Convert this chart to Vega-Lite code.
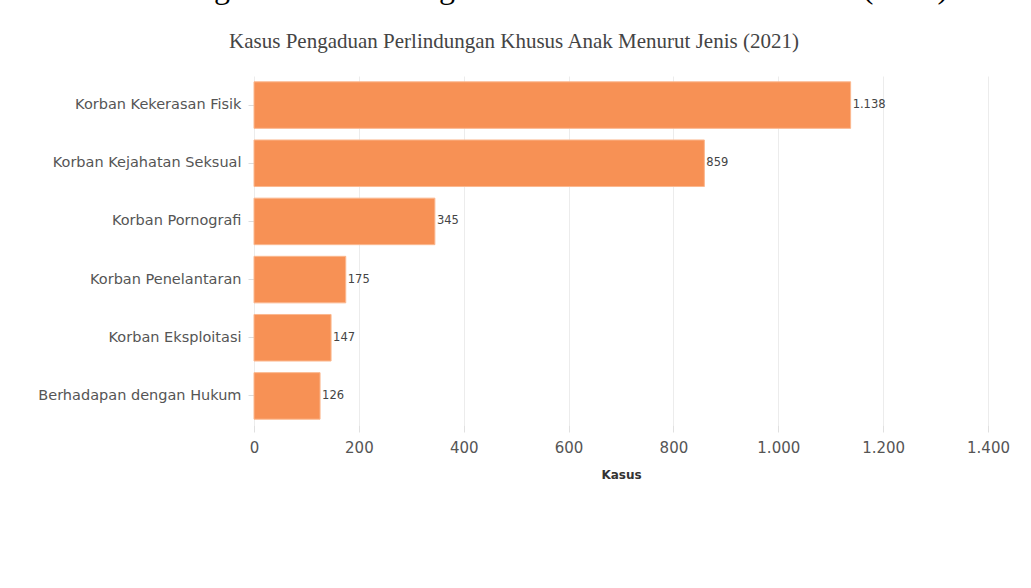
{
  "$schema": "https://vega.github.io/schema/vega-lite/v6.json",
  "width": 734,
  "height": 349,
  "autosize": "none",
  "padding": {"left": 254, "top": 76, "right": 43, "bottom": 163},
  "background": "white",
  "config": {
    "view": {"stroke": null},
    "locale": {"number": {"decimal": ",", "thousands": ".", "grouping": [3], "currency": ["Rp", ""]}}
  },
  "title": {
    "text": "Kasus Pengaduan Perlindungan Khusus Anak Menurut Jenis (2021)",
    "subtitle": "Kasus Pengaduan Perlindungan Khusus Anak Menurut Jenis (2021)",
    "font": "Liberation Serif",
    "fontSize": 32,
    "fontWeight": "normal",
    "color": "#000000",
    "subtitleFont": "Liberation Serif",
    "subtitleFontSize": 21,
    "subtitleColor": "#444444",
    "subtitlePadding": 26,
    "anchor": "middle",
    "dx": -107,
    "offset": 23
  },
  "data": {
    "values": [
      {"jenis": "Korban Kekerasan Fisik", "kasus": 1138},
      {"jenis": "Korban Kejahatan Seksual", "kasus": 859},
      {"jenis": "Korban Pornografi", "kasus": 345},
      {"jenis": "Korban Penelantaran", "kasus": 175},
      {"jenis": "Korban Eksploitasi", "kasus": 147},
      {"jenis": "Berhadapan dengan Hukum", "kasus": 126}
    ]
  },
  "encoding": {
    "y": {
      "field": "jenis",
      "type": "nominal",
      "sort": null,
      "scale": {"paddingInner": 0.2, "paddingOuter": 0.1},
      "axis": {
        "title": null,
        "domain": false,
        "ticks": true,
        "tickSize": 6,
        "tickColor": "#dddddd",
        "labelPadding": 7,
        "labelLimit": 400,
        "labelFont": "DejaVu Sans",
        "labelFontSize": 14.5,
        "labelColor": "#555555"
      }
    },
    "x": {
      "field": "kasus",
      "type": "quantitative",
      "scale": {"domain": [0, 1400], "nice": false},
      "axis": {
        "title": "Kasus",
        "titleFont": "DejaVu Sans",
        "titleFontSize": 12,
        "titleFontWeight": "bold",
        "titleColor": "#333333",
        "titlePadding": 14,
        "values": [0, 200, 400, 600, 800, 1000, 1200, 1400],
        "format": ",d",
        "labelFlush": false,
        "domain": false,
        "grid": true,
        "gridColor": "#ececec",
        "tickColor": "#e0e0e0",
        "tickSize": 7,
        "labelPadding": 8,
        "labelFont": "DejaVu Sans",
        "labelFontSize": 15,
        "labelColor": "#555555"
      }
    }
  },
  "layer": [
    {"mark": {"type": "bar", "color": "#f79155", "stroke": "#fbb88f", "strokeWidth": 1}},
    {
      "mark": {"type": "text", "align": "left", "dx": 2, "font": "DejaVu Sans", "fontSize": 11.5, "color": "#444444"},
      "encoding": {"text": {"field": "kasus", "type": "quantitative", "format": ",d"}}
    }
  ]
}
